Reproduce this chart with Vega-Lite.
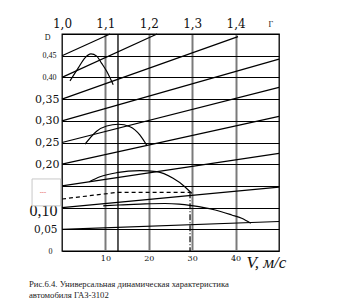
{
  "$schema": "https://vega.github.io/schema/vega-lite/v6.json",
  "width": 217,
  "height": 217,
  "autosize": {"type": "none"},
  "padding": {"left": 62, "top": 34, "right": 68, "bottom": 55},
  "background": "white",
  "config": {
    "view": {"stroke": "black", "strokeWidth": 1.3},
    "axis": {"domain": false, "ticks": false, "labelFlush": false, "labelOverlap": false, "labelColor": "#111"}
  },
  "title": {
    "text": ["Рис.6.4. Универсальная динамическая характеристика", "автомобиля ГАЗ-3102"],
    "orient": "bottom", "anchor": "start", "font": "Liberation Serif", "fontSize": 8.7,
    "fontWeight": "normal", "color": "#222", "offset": 10, "lineHeight": 11
  },
  "datasets": {
    "diag": [
      {"id": "a", "V": 0, "D": 0.45}, {"id": "a", "V": 11.06, "D": 0.5},
      {"id": "b", "V": 0, "D": 0.40}, {"id": "b", "V": 21.9, "D": 0.5},
      {"id": "c", "V": 0, "D": 0.35}, {"id": "c", "V": 40.55, "D": 0.494},
      {"id": "d", "V": 0, "D": 0.30}, {"id": "d", "V": 50, "D": 0.442},
      {"id": "e", "V": 0, "D": 0.25}, {"id": "e", "V": 50, "D": 0.377},
      {"id": "f", "V": 0, "D": 0.20}, {"id": "f", "V": 50, "D": 0.31},
      {"id": "g", "V": 0, "D": 0.15}, {"id": "g", "V": 50, "D": 0.225},
      {"id": "h", "V": 0, "D": 0.10}, {"id": "h", "V": 50, "D": 0.147},
      {"id": "i", "V": 0, "D": 0.05}, {"id": "i", "V": 50, "D": 0.068}
    ],
    "gears": [
      {"g": "1", "V": 1.84, "D": 0.392}, {"g": "1", "V": 3.76, "D": 0.422}, {"g": "1", "V": 5.3, "D": 0.445},
      {"g": "1", "V": 6.68, "D": 0.454}, {"g": "1", "V": 8.0, "D": 0.449}, {"g": "1", "V": 9.1, "D": 0.433},
      {"g": "1", "V": 10.3, "D": 0.414}, {"g": "1", "V": 11.8, "D": 0.383},
      {"g": "2", "V": 5.3, "D": 0.246}, {"g": "2", "V": 7.98, "D": 0.276}, {"g": "2", "V": 10.3, "D": 0.288},
      {"g": "2", "V": 12.97, "D": 0.292}, {"g": "2", "V": 15.67, "D": 0.2864}, {"g": "2", "V": 17.97, "D": 0.267},
      {"g": "2", "V": 19.5, "D": 0.244},
      {"g": "3", "V": 6.29, "D": 0.1597}, {"g": "3", "V": 8.76, "D": 0.1712}, {"g": "3", "V": 12.6, "D": 0.1804},
      {"g": "3", "V": 17.97, "D": 0.185}, {"g": "3", "V": 21.8, "D": 0.1827}, {"g": "3", "V": 25.6, "D": 0.1674},
      {"g": "3", "V": 28.3, "D": 0.1482}, {"g": "3", "V": 29.9, "D": 0.1329},
      {"g": "4", "V": 9.5, "D": 0.104}, {"g": "4", "V": 13, "D": 0.106}, {"g": "4", "V": 18, "D": 0.108},
      {"g": "4", "V": 23.7, "D": 0.1095}, {"g": "4", "V": 27, "D": 0.108}, {"g": "4", "V": 29.9, "D": 0.1044},
      {"g": "4", "V": 35.3, "D": 0.0945}, {"g": "4", "V": 39.1, "D": 0.083}, {"g": "4", "V": 41.4, "D": 0.0753},
      {"g": "4", "V": 43.5, "D": 0.064}
    ],
    "dashed": [
      {"V": 0, "D": 0.1198}, {"V": 12.97, "D": 0.1353}, {"V": 29.5, "D": 0.1353}
    ],
    "drop": [{"V": 29.5, "D": 0.1353, "D0": 0}],
    "mark13": [{"V": 12.9}],
    "box": [{"V1": -6.9, "V2": -0.3, "D1": 0.104, "D2": 0.166, "t": "---", "Vt": -4.4, "Dt": 0.135}]
  },
  "resolve": {"axis": {"x": "independent", "y": "independent"}},
  "layer": [
    {
      "data": {"name": "diag"},
      "mark": {"type": "line", "color": "black", "strokeWidth": 1.2},
      "encoding": {
        "x": {
          "field": "V", "type": "quantitative",
          "scale": {"domain": [0, 50], "nice": false, "zero": false},
          "axis": {
            "orient": "bottom", "values": [10, 20, 30, 40], "grid": true, "gridColor": "#7a7a7a", "gridWidth": 2,
            "labelFont": "DejaVu Serif", "labelFontSize": 8, "labelPadding": 3,
            "title": "V, м/с", "titleFont": "Liberation Serif", "titleFontStyle": "italic", "titleFontWeight": "normal",
            "titleFontSize": 17, "titleColor": "#111", "titleAlign": "left", "titleBaseline": "alphabetic",
            "titleX": 184, "titleY": 16, "titleAnchor": null
          }
        },
        "y": {
          "field": "D", "type": "quantitative",
          "scale": {"domain": [0, 0.5], "nice": false},
          "axis": {
            "values": [0, 0.05, 0.1, 0.15, 0.2, 0.25, 0.3, 0.35, 0.4, 0.45, 0.5],
            "grid": true, "gridColor": "black", "gridWidth": 1.2, "title": null,
            "labelExpr": "datum.value > 0.49 ? 'D' : (datum.value > 0.14 && datum.value < 0.16) ? '' : datum.value < 0.01 ? '0' : replace(format(datum.value, '.2f'), '.', ',')",
            "labelFont": {"condition": [{"test": "datum.value > 0.37 || datum.value < 0.01", "value": "Liberation Serif"}, {"test": "datum.value > 0.09 && datum.value < 0.11", "value": "Liberation Serif"}], "value": "DejaVu Serif"},
            "labelFontSize": {"condition": [{"test": "datum.value > 0.37 || datum.value < 0.01", "value": 8}, {"test": "datum.value > 0.09 && datum.value < 0.11", "value": 16}, {"test": "datum.value > 0.04 && datum.value < 0.06", "value": 10.5}], "value": 11},
            "labelPadding": {"condition": [{"test": "datum.value > 0.49", "value": 12}, {"test": "datum.value < 0.01", "value": 10}, {"test": "datum.value > 0.37", "value": 6}, {"test": "datum.value < 0.11", "value": 5}], "value": 3},
            "labelOffset": {"condition": [{"test": "datum.value > 0.49", "value": 3}, {"test": "datum.value > 0.09 && datum.value < 0.11", "value": 3}], "value": 0}
          }
        },
        "detail": {"field": "id"}
      }
    },
    {
      "data": {"name": "mark13"},
      "mark": {"type": "rule", "color": "black", "strokeWidth": 1.3},
      "encoding": {
        "x": {
          "field": "V", "type": "quantitative",
          "axis": {
            "orient": "top", "values": [0, 10, 20, 30, 40, 48], "grid": false, "title": null,
            "labelExpr": "datum.value > 45 ? 'Г' : replace(format(datum.value / 100 + 1, '.1f'), '.', ',')",
            "labelFont": {"condition": {"test": "datum.value > 45", "value": "Liberation Serif"}, "value": "DejaVu Serif"},
            "labelFontSize": {"condition": {"test": "datum.value > 45", "value": 8}, "value": 12},
            "labelPadding": {"condition": {"test": "datum.value > 45", "value": 6}, "value": 4}
          }
        }
      }
    },
    {
      "data": {"name": "gears"},
      "mark": {"type": "line", "color": "black", "strokeWidth": 1.2, "interpolate": "monotone"},
      "encoding": {
        "x": {"field": "V", "type": "quantitative", "axis": null},
        "y": {"field": "D", "type": "quantitative", "axis": null},
        "detail": {"field": "g"}
      }
    },
    {
      "data": {"name": "dashed"},
      "mark": {"type": "line", "color": "black", "strokeWidth": 1.2, "strokeDash": [4, 3]},
      "encoding": {
        "x": {"field": "V", "type": "quantitative", "axis": null},
        "y": {"field": "D", "type": "quantitative", "axis": null}
      }
    },
    {
      "data": {"name": "drop"},
      "mark": {"type": "rule", "color": "black", "strokeWidth": 1.2, "strokeDash": [6, 2, 1, 2]},
      "encoding": {
        "x": {"field": "V", "type": "quantitative", "axis": null},
        "y": {"field": "D", "type": "quantitative", "axis": null},
        "y2": {"field": "D0"}
      }
    },
    {
      "data": {"name": "box"},
      "mark": {"type": "rect", "fill": "white", "stroke": "#c8c8c8", "strokeWidth": 1},
      "encoding": {
        "x": {"field": "V1", "type": "quantitative", "axis": null},
        "x2": {"field": "V2"},
        "y": {"field": "D1", "type": "quantitative", "axis": null},
        "y2": {"field": "D2"}
      }
    },
    {
      "data": {"name": "box"},
      "mark": {"type": "text", "color": "#e03030", "fontSize": 6, "font": "DejaVu Sans"},
      "encoding": {
        "x": {"field": "Vt", "type": "quantitative", "axis": null},
        "y": {"field": "Dt", "type": "quantitative", "axis": null},
        "text": {"field": "t"}
      }
    }
  ]
}
